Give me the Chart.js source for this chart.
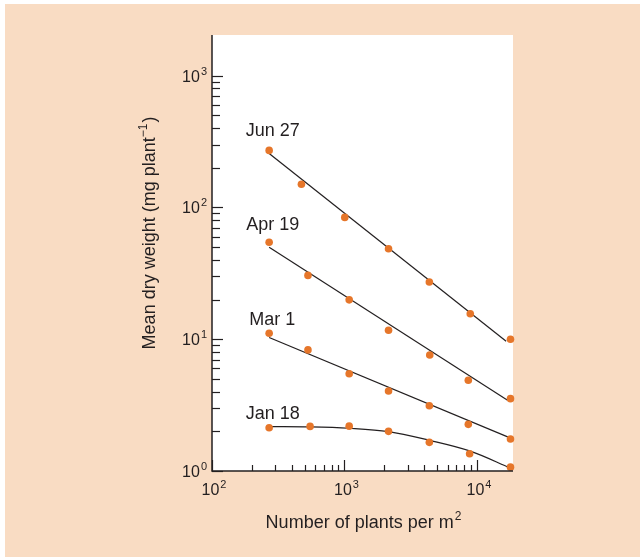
<!DOCTYPE html>
<html>
<head>
<meta charset="utf-8">
<script src="https://cdn.jsdelivr.net/npm/chart.js@4"></script>
<style>
html,body{margin:0;padding:0;background:#fff;}
#wrap{width:640px;height:557px;position:relative;}
</style>
</head>
<body>
<div id="wrap"><canvas id="c" width="640" height="557"></canvas></div>
<script>
// ---- data ----
const seriesNames = ['Jun 27', 'Apr 19', 'Mar 1', 'Jan 18'];

const junX = [270, 473, 1005, 2150, 4370, 8900, 17900];
const junY = [271, 150, 84, 48.6, 27.2, 15.6, 10.0];
const aprX = [270, 530, 1085, 2150, 4400, 8600, 17900];
const aprY = [54.4, 30.5, 19.9, 11.7, 7.6, 4.88, 3.54];
const marX = [270, 530, 1085, 2150, 4370, 8600, 17900];
const marY = [11.1, 8.3, 5.47, 4.05, 3.13, 2.26, 1.75];
const janX = [270, 550, 1085, 2150, 4370, 8800, 17900];
const janY = [2.13, 2.18, 2.19, 2.0, 1.65, 1.35, 1.07];

// fitted lines / curve
const junFitX = [270, 16600];
const junFitY = [257, 9.64];
const aprFitX = [270, 16900];
const aprFitY = [49.8, 3.46];
const marFitX = [270, 17400];
const marFitY = [10.3, 1.80];
const janFitX = [270, 550, 1085, 2150, 4370, 8800, 17900];
const janFitY = [2.17, 2.16, 2.11, 1.99, 1.71, 1.42, 1.05];

const xMajorExp = [2, 3, 4];
const yMajorExp = [0, 1, 2, 3];
const xTitle = 'Number of plants per m';
const xTitleSup = '2';
const yTitle = 'Mean dry weight (mg plant';
const yTitleSup = '\u22121';
const yTitleEnd = ')';

const xMin = 100, xMax = 18700, yMin = 1, yMax = 2035;

// ---- helpers ----
const pts = (xs, ys) => xs.map((x, i) => ({x: x, y: ys[i]}));
const ORANGE = '#e6762a';
const INK = '#231f20';
const PEACH = '#f9dcc3';
const FONT = '"Liberation Sans", Arial, Helvetica, sans-serif';

const pointSets = [[junX, junY], [aprX, aprY], [marX, marY], [janX, janY]];
const fitSets = [[junFitX, junFitY], [aprFitX, aprFitY], [marFitX, marFitY], [janFitX, janFitY]];

const datasets = [];
pointSets.forEach((s, i) => {
  datasets.push({
    label: seriesNames[i],
    data: pts(s[0], s[1]),
    showLine: false,
    pointRadius: 3.8,
    pointBackgroundColor: ORANGE,
    pointBorderColor: ORANGE,
    pointBorderWidth: 0,
    clip: false,
    order: 0
  });
});
fitSets.forEach((s, i) => {
  datasets.push({
    label: seriesNames[i] + ' fit',
    data: pts(s[0], s[1]),
    showLine: true,
    borderColor: INK,
    borderWidth: 1.2,
    pointRadius: 0,
    fill: false,
    tension: i === 3 ? 0.35 : 0,
    clip: false,
    order: 1
  });
});

// label offsets relative to first data point (pixels)
const labelOffsets = [[3.5, -14], [3.5, -12], [3, -8], [3.5, -9]];

function supText(ctx, base, sup, x, y, align, size, supSize, rise) {
  ctx.font = size + 'px ' + FONT;
  const wb = ctx.measureText(base).width;
  ctx.font = supSize + 'px ' + FONT;
  const ws = ctx.measureText(sup).width;
  const total = wb + 1 + ws;
  let x0 = x;
  if (align === 'center') x0 = x - total / 2;
  else if (align === 'right') x0 = x - total;
  ctx.textAlign = 'left';
  ctx.font = size + 'px ' + FONT;
  ctx.fillText(base, x0, y);
  ctx.font = supSize + 'px ' + FONT;
  ctx.fillText(sup, x0 + wb + 1, y - rise);
}

const decor = {
  id: 'decor',
  beforeDraw(chart) {
    const ctx = chart.ctx;
    const a = chart.chartArea;
    ctx.save();
    ctx.fillStyle = '#ffffff';
    ctx.fillRect(0, 0, chart.width, chart.height);
    ctx.fillStyle = PEACH;
    ctx.fillRect(5, 4, chart.width - 5, chart.height - 4);
    ctx.fillStyle = '#ffffff';
    ctx.fillRect(a.left, a.top, a.right - a.left, a.bottom - a.top);
    ctx.restore();
  },
  afterDatasetsDraw(chart) {
    const ctx = chart.ctx;
    const a = chart.chartArea;
    const xs = chart.scales.x, ys = chart.scales.y;
    ctx.save();
    ctx.strokeStyle = INK;
    ctx.fillStyle = INK;
    // axis lines
    ctx.lineWidth = 1.5;
    ctx.beginPath();
    ctx.moveTo(a.left, a.top);
    ctx.lineTo(a.left, a.bottom);
    ctx.lineTo(a.right, a.bottom);
    ctx.stroke();
    // ticks
    ctx.lineWidth = 1.2;
    for (let e = 2; e <= 4; e++) {
      for (let m = 1; m <= 9; m++) {
        const v = m * Math.pow(10, e);
        if (v < xMin || v > xMax) continue;
        const px = Math.round(xs.getPixelForValue(v)) + 0.5;
        const len = m === 1 ? 11 : 6;
        ctx.beginPath();
        ctx.moveTo(px, a.bottom);
        ctx.lineTo(px, a.bottom - len);
        ctx.stroke();
      }
    }
    for (let e = 0; e <= 3; e++) {
      for (let m = 1; m <= 9; m++) {
        const v = m * Math.pow(10, e);
        if (v < yMin || v > yMax) continue;
        if (m !== 1 && e === 3) continue;
        const py = Math.round(ys.getPixelForValue(v)) + 0.5;
        const len = m === 1 ? 11 : 8;
        ctx.beginPath();
        ctx.moveTo(a.left, py);
        ctx.lineTo(a.left + len, py);
        ctx.stroke();
      }
    }
    // tick labels
    ctx.textBaseline = 'alphabetic';
    xMajorExp.forEach(e => {
      const px = xs.getPixelForValue(Math.pow(10, e));
      supText(ctx, '10', String(e), px + 2, a.bottom + 24, 'center', 16, 11, 7);
    });
    yMajorExp.forEach(e => {
      const py = ys.getPixelForValue(Math.pow(10, e));
      supText(ctx, '10', String(e), a.left - 5, py + 6, 'right', 16, 11, 7);
    });
    // axis titles
    supText(ctx, xTitle, xTitleSup, (a.left + a.right) / 2 + 1, 528, 'center', 18, 12, 8);
    ctx.save();
    ctx.translate(155, 233);
    ctx.rotate(-Math.PI / 2);
    ctx.font = '18px ' + FONT;
    const w1 = ctx.measureText(yTitle).width;
    ctx.font = '12px ' + FONT;
    const w2 = ctx.measureText(yTitleSup).width;
    ctx.font = '18px ' + FONT;
    const w3 = ctx.measureText(yTitleEnd).width;
    const tot = w1 + w2 + w3 + 1;
    let x0 = -tot / 2;
    ctx.textAlign = 'left';
    ctx.fillText(yTitle, x0, 0);
    ctx.font = '12px ' + FONT;
    ctx.fillText(yTitleSup, x0 + w1, -8);
    ctx.font = '18px ' + FONT;
    ctx.fillText(yTitleEnd, x0 + w1 + w2 + 1, 0);
    ctx.restore();
    // series labels
    ctx.font = '18px ' + FONT;
    ctx.textAlign = 'center';
    pointSets.forEach((s, i) => {
      const px = xs.getPixelForValue(s[0][0]);
      const py = ys.getPixelForValue(s[1][0]);
      ctx.fillText(seriesNames[i], px + labelOffsets[i][0], py + labelOffsets[i][1]);
    });
    ctx.restore();
  }
};

new Chart(document.getElementById('c'), {
  type: 'scatter',
  data: {datasets: datasets},
  options: {
    responsive: false,
    animation: false,
    devicePixelRatio: 1,
    layout: {padding: {left: 212, top: 35, right: 127, bottom: 86}},
    plugins: {legend: {display: false}, tooltip: {enabled: false}},
    scales: {
      x: {type: 'logarithmic', min: xMin, max: xMax, display: false},
      y: {type: 'logarithmic', min: yMin, max: yMax, display: false}
    }
  },
  plugins: [decor]
});
</script>
</body>
</html>
